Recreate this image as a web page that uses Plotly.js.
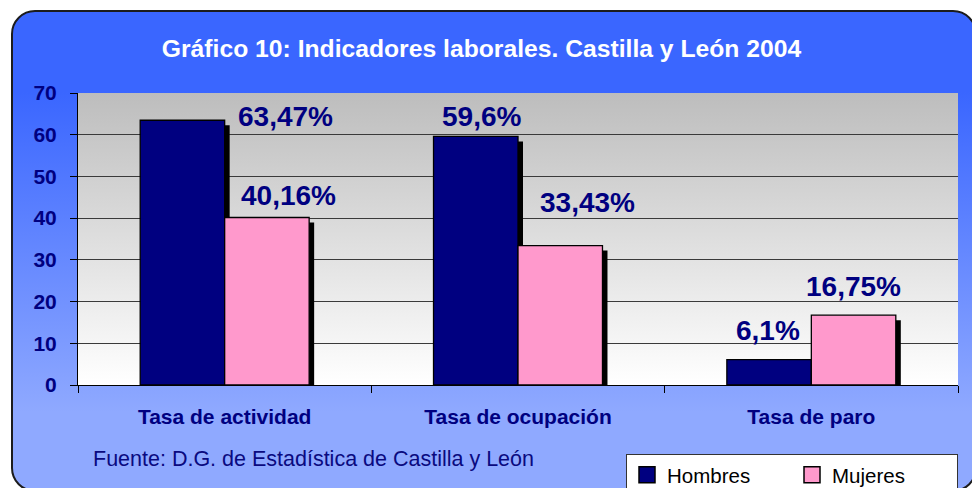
<!DOCTYPE html>
<html><head><meta charset="utf-8">
<script src="https://cdn.plot.ly/plotly-3.0.1.min.js"></script>
<style>
html,body{margin:0;padding:0;width:972px;height:488px;overflow:hidden;background:#ffffff;}
#frame{position:absolute;left:11px;top:10px;width:966px;height:482px;box-sizing:border-box;border:2px solid #1c1c1c;border-radius:24px;
background:linear-gradient(to bottom,#3a66ff 0px,#3a66ff 80px,#8fa9ff 400px,#8fa9ff 100%);}
#chart{position:absolute;left:0;top:0;width:972px;height:488px;}
</style></head><body>
<div id="frame"></div><div id="chart"></div>
<script>
// ---- data ----
const categories = ['Tasa de actividad', 'Tasa de ocupación', 'Tasa de paro'];
const seriesNames = ['Hombres', 'Mujeres'];
const hombres = [63.47, 59.6, 6.1];
const mujeres = [40.16, 33.43, 16.75];
const yTicks = [0, 10, 20, 30, 40, 50, 60, 70];
const titleText = 'Gráfico 10: Indicadores laborales. Castilla y León 2004';
const sourceText = 'Fuente: D.G. de Estadística de Castilla y León';

// ---- style / placement config ----
const W = 972, H = 488;
const M = {l: 78, r: 14, t: 93, b: 103};
const FONT = 'Liberation Sans, Arial, Helvetica, sans-serif';
const NAVY = '#000080', PINK = '#ff99cc', LABEL = '#000080';
const colors = [NAVY, PINK];
const yMax = 70;
const shadowPx = 5;
// label offsets in px (dx right, dy up) relative to category centre / bar value
const labelOffsets = [
  [[61, 4], [-37, 20], [-43, 29]],
  [[64, 22], [69, 43], [42, 29]]
];

const plotW = W - M.l - M.r, plotH = H - M.t - M.b;
const nCat = categories.length;
const dx = shadowPx * nCat / plotW;
const dy = shadowPx * yMax / plotH;
const series = [hombres, mujeres];
const fmt = v => String(v).replace('.', ',') + '%';

const traces = [];
// shadows (lower subplot)
series.forEach((vals, s) => {
  traces.push({type: 'bar', x: categories, y: vals, xaxis: 'x', yaxis: 'y',
    marker: {color: '#000000', line: {width: 0}}, showlegend: false, hoverinfo: 'skip'});
});
// real bars (overlay subplot)
series.forEach((vals, s) => {
  traces.push({type: 'bar', name: seriesNames[s], x: categories, y: vals, xaxis: 'x2', yaxis: 'y2',
    marker: {color: colors[s], line: {color: '#000000', width: 1.3}}, showlegend: false});
});
// legend entries
series.forEach((vals, s) => {
  traces.push({type: 'scatter', mode: 'markers', name: seriesNames[s], x: [null], y: [null],
    xaxis: 'x2', yaxis: 'y2', hoverinfo: 'skip',
    marker: {symbol: 'square', size: 16, color: colors[s], line: {color: '#000000', width: 1.5}}});
});

const annotations = [];
series.forEach((vals, s) => {
  vals.forEach((v, i) => {
    annotations.push({xref: 'x2', yref: 'y2', x: categories[i], y: v, text: fmt(v), showarrow: false,
      xanchor: 'center', yanchor: 'middle', xshift: labelOffsets[s][i][0], yshift: labelOffsets[s][i][1],
      font: {family: FONT, size: 28, color: LABEL, weight: 'bold'}});
  });
});
annotations.push({xref: 'paper', yref: 'paper', x: (313.5 - M.l) / plotW, y: (M.t + plotH - 459) / plotH,
  text: sourceText, showarrow: false, xanchor: 'center', yanchor: 'middle',
  font: {family: FONT, size: 21.5, color: '#0a0a80'}});

const bgSvg = "<svg xmlns='http://www.w3.org/2000/svg' width='100' height='100' preserveAspectRatio='none'>" +
  "<defs><linearGradient id='g' x1='0' y1='0' x2='0' y2='1'><stop offset='0' stop-color='#bdbdbd'/>" +
  "<stop offset='1' stop-color='#ffffff'/></linearGradient></defs><rect width='100' height='100' fill='url(#g)'/></svg>";

const tickFont = {family: FONT, size: 21, color: NAVY, weight: 'bold'};

const layout = {
  width: W, height: H,
  margin: M,
  paper_bgcolor: 'rgba(0,0,0,0)', plot_bgcolor: 'rgba(0,0,0,0)',
  barmode: 'group', bargap: 0.424, bargroupgap: 0,
  title: {text: titleText, xref: 'container', yref: 'container', x: 481.5 / W, y: 1 - 48 / H,
    xanchor: 'center', yanchor: 'middle', font: {family: FONT, size: 24.7, color: '#ffffff', weight: 'bold'}},
  xaxis: {type: 'category', range: [-0.5 - dx, nCat - 0.5 - dx], visible: false, fixedrange: true},
  yaxis: {range: [dy, yMax + dy], visible: false, fixedrange: true},
  xaxis2: {type: 'category', overlaying: 'x', anchor: 'y2', side: 'bottom', range: [-0.5, nCat - 0.5],
    tickson: 'boundaries', ticks: 'outside', ticklen: 7, tickwidth: 1, tickcolor: '#000000',
    showline: true, linecolor: '#000000', linewidth: 1, showgrid: false, tickfont: tickFont,
    ticklabelstandoff: 13, fixedrange: true},
  yaxis2: {overlaying: 'y', anchor: 'x2', side: 'left', range: [0, yMax], tickvals: yTicks,
    ticks: 'outside', ticklen: 7, tickwidth: 1, tickcolor: '#000000', showline: true, linecolor: '#000000',
    linewidth: 1, showgrid: true, gridcolor: '#3a3a3a', gridwidth: 1, zeroline: false,
    tickfont: tickFont, ticklabelstandoff: 9, fixedrange: true},
  legend: {orientation: 'h', xref: 'container', yref: 'container', x: 626 / W, xanchor: 'left',
    y: 1 - 454 / H, yanchor: 'top', bgcolor: '#ffffff', bordercolor: '#333333', borderwidth: 1,
    font: {family: FONT, size: 20.5, color: '#000000'}, itemsizing: 'trace', entrywidth: 120, entrywidthmode: 'pixels'},
  images: [{source: 'data:image/svg+xml;charset=utf-8,' + encodeURIComponent(bgSvg), xref: 'paper', yref: 'paper',
    x: 0, y: 1, sizex: 1, sizey: 1, sizing: 'stretch', xanchor: 'left', yanchor: 'top', layer: 'below'}],
  annotations: annotations,
  showlegend: true
};

Plotly.newPlot('chart', traces, layout, {displayModeBar: false, staticPlot: true});
</script>
</body></html>
